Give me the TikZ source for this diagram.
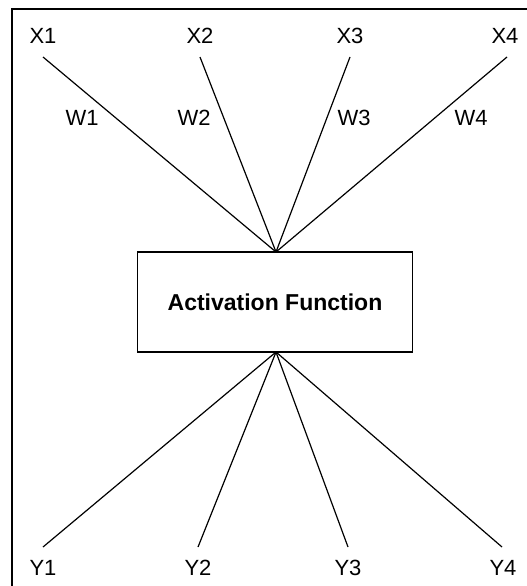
\documentclass[tikz,border=0pt]{standalone}
\usepackage{fontspec}
\setmainfont{Liberation Sans}
\begin{document}
\begin{tikzpicture}[x=1pt,y=-1pt,
  lbl/.style={font=\fontsize{22}{26}\selectfont, inner sep=0pt, anchor=base},
  wire/.style={line width=1.2pt},
  box/.style={draw, line width=1.2pt, minimum width=275pt, minimum height=100pt, inner sep=0pt, font=\bfseries\fontsize{23}{26}\selectfont}]
\useasboundingbox (0,0) rectangle (527,586);
\draw[line width=1.6pt] (12,600) -- (12,9) -- (540,9);
\node[box] (af) at (275,302) {Activation Function};
\node[lbl] (x1) at (43,44) {X1};
\node[lbl] (x2) at (200,44) {X2};
\node[lbl] (x3) at (350,44) {X3};
\node[lbl] (x4) at (505,44) {X4};
\node[lbl] (w1) at (82,125) {W1};
\node[lbl] (w2) at (194,125) {W2};
\node[lbl] (w3) at (354,125) {W3};
\node[lbl] (w4) at (471,125) {W4};
\node[lbl] (y1) at (43,575) {Y1};
\node[lbl] (y2) at (198,575) {Y2};
\node[lbl] (y3) at (348,575) {Y3};
\node[lbl] (y4) at (503,575) {Y4};
\coordinate (x1a) at (43,57);
\coordinate (x2a) at (200,57);
\coordinate (x3a) at (350,57);
\coordinate (x4a) at (507,57);
\coordinate (y1a) at (43,547);
\coordinate (y2a) at (198,547);
\coordinate (y3a) at (348,547);
\coordinate (y4a) at (502,547);
\coordinate (top) at (276,252);
\coordinate (bot) at (276,352);
\foreach \p in {x1a,x2a,x3a,x4a} \draw[wire] (\p) -- (top);
\foreach \p in {y1a,y2a,y3a,y4a} \draw[wire] (bot) -- (\p);
\end{tikzpicture}
\end{document}
